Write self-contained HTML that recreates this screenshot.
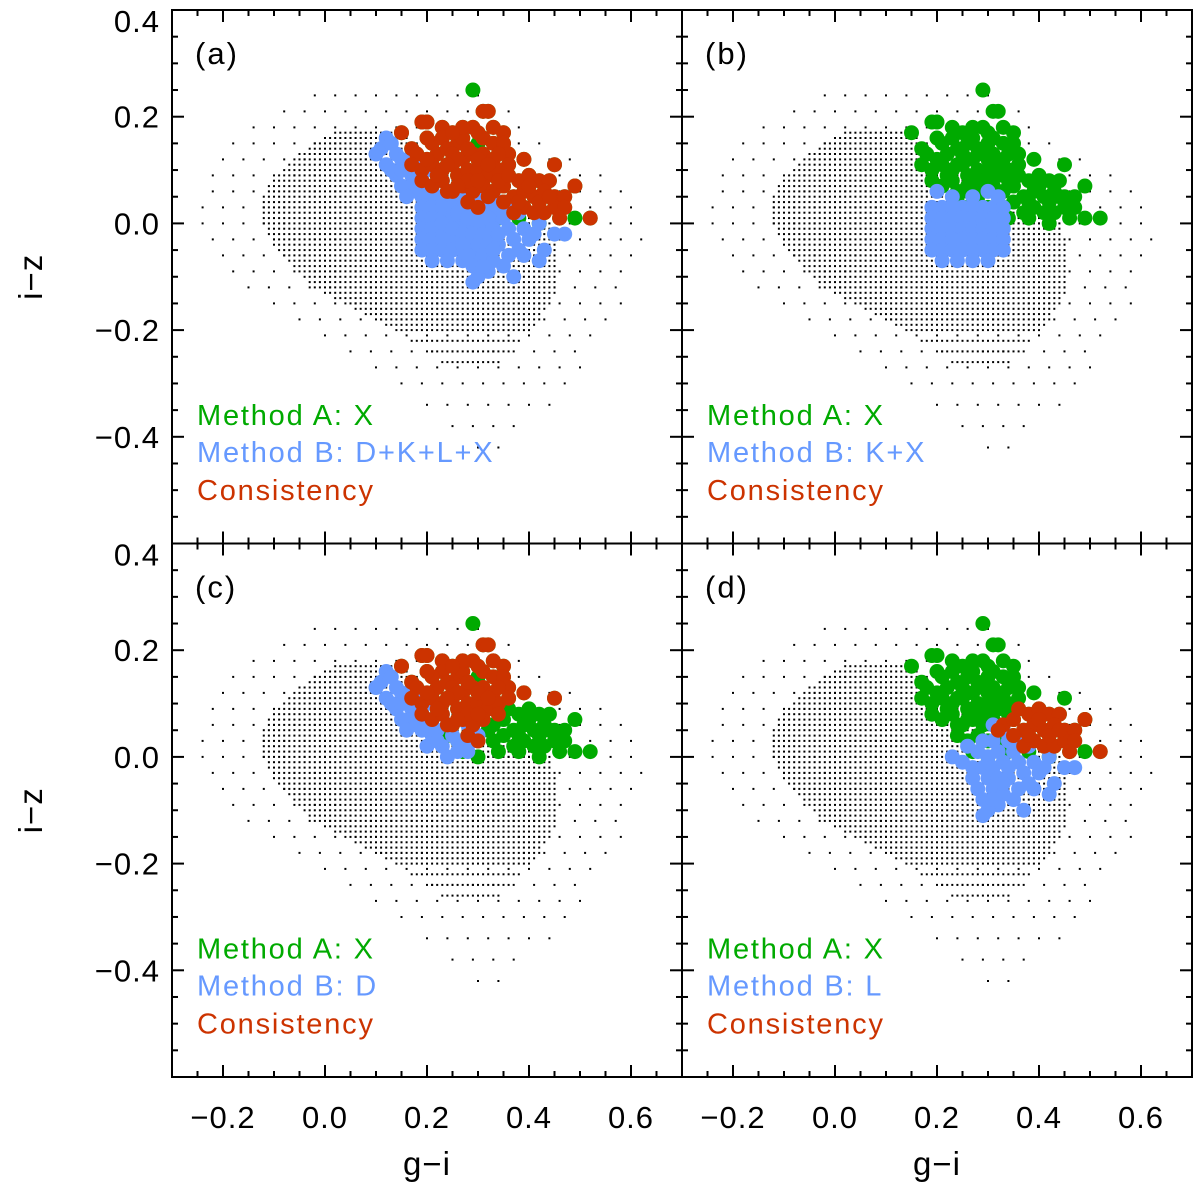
<!DOCTYPE html>
<html><head><meta charset="utf-8"><style>
html,body{margin:0;padding:0;background:#fff;}
svg{display:block;font-family:"Liberation Sans",sans-serif;}
</style></head><body>
<svg id="chart" width="1200" height="1195" viewBox="0 0 1200 1195" xmlns="http://www.w3.org/2000/svg"></svg>
<script>
// ---- data ----
const xTicks = [-0.2, 0.0, 0.2, 0.4, 0.6];
const xTickLabels = ["\u22120.2", "0.0", "0.2", "0.4", "0.6"];
const yTicks = [0.4, 0.2, 0.0, -0.2, -0.4];
const yTickLabels = ["0.4", "0.2", "0.0", "\u22120.2", "\u22120.4"];
const panelLabels = ["(a)", "(b)", "(c)", "(d)"];
const legendB = ["Method B: D+K+L+X", "Method B: K+X", "Method B: D", "Method B: L"];
const panelBSets = [["D","K","L"], ["K"], ["D"], ["L"]];
const panelRedSets = [["D","L"], [], ["D"], ["L"]];
// background cloud: [y, xmin, xmax] dense rows
const coreRows = [[0.17,0.02,0.14],[0.16,0.0,0.16],[0.15,-0.02,0.17],[0.14,-0.03,0.18],[0.13,-0.05,0.2],[0.12,-0.06,0.22],[0.11,-0.07,0.24],[0.10,-0.08,0.26],[0.09,-0.09,0.28],[0.08,-0.10,0.30],[0.07,-0.11,0.32],[0.06,-0.11,0.34],[0.05,-0.12,0.36],[0.04,-0.12,0.38],[0.03,-0.12,0.40],[0.02,-0.12,0.41],[0.01,-0.12,0.42],[0.00,-0.12,0.43],[-0.01,-0.11,0.44],[-0.02,-0.11,0.44],[-0.03,-0.10,0.45],[-0.04,-0.10,0.45],[-0.05,-0.09,0.45],[-0.06,-0.08,0.45],[-0.07,-0.07,0.45],[-0.08,-0.06,0.45],[-0.09,-0.05,0.45],[-0.10,-0.04,0.45],[-0.11,-0.03,0.45],[-0.12,-0.02,0.45],[-0.13,0.0,0.45],[-0.14,0.02,0.44],[-0.15,0.04,0.44],[-0.16,0.06,0.43],[-0.17,0.08,0.42],[-0.18,0.10,0.42],[-0.19,0.12,0.41],[-0.20,0.14,0.40],[-0.22,0.17,0.38],[-0.24,0.20,0.36],[-0.26,0.23,0.34]];
// sparse halo rows: [y, xmin, xmax]
const haloRows = [[0.24,-0.02,0.30],[0.21,-0.08,0.36],[0.18,-0.14,0.40],[0.15,-0.18,0.45],[0.12,-0.20,0.50],[0.09,-0.22,0.55],[0.06,-0.22,0.58],[0.03,-0.24,0.60],[0.0,-0.24,0.62],[-0.03,-0.22,0.64],[-0.06,-0.20,0.62],[-0.09,-0.18,0.60],[-0.12,-0.15,0.58],[-0.15,-0.10,0.58],[-0.18,-0.05,0.55],[-0.21,0.0,0.55],[-0.24,0.05,0.52],[-0.27,0.10,0.50],[-0.30,0.15,0.48],[-0.34,0.20,0.45],[-0.38,0.25,0.40],[-0.42,0.30,0.36]];
// Method A (X) points: [g-i, i-z, confirmed-by]
const methodA = [[0.29,0.25,""],[0.15,0.17,"D"],[0.19,0.19,"D"],[0.20,0.19,"D"],[0.23,0.18,"D"],[0.23,0.16,"D"],[0.26,0.15,"D"],[0.27,0.16,"D"],[0.31,0.21,"D"],[0.32,0.21,"D"],[0.29,0.18,"D"],[0.30,0.15,""],[0.31,0.16,"D"],[0.33,0.15,"D"],[0.35,0.17,"D"],[0.35,0.15,"D"],[0.17,0.14,"D"],[0.18,0.13,"D"],[0.21,0.15,"D"],[0.22,0.13,"D"],[0.24,0.14,"D"],[0.25,0.13,"D"],[0.27,0.12,"D"],[0.29,0.13,"D"],[0.31,0.13,"D"],[0.33,0.12,"D"],[0.36,0.13,"D"],[0.39,0.12,"D"],[0.45,0.11,"D"],[0.17,0.11,"D"],[0.19,0.10,"D"],[0.21,0.11,"D"],[0.23,0.10,"D"],[0.25,0.11,"D"],[0.26,0.09,"D"],[0.28,0.10,"D"],[0.30,0.10,"D"],[0.32,0.09,"D"],[0.34,0.10,"D"],[0.36,0.11,"D"],[0.38,0.08,"L"],[0.40,0.09,"L"],[0.42,0.08,"L"],[0.49,0.07,"L"],[0.44,0.08,"L"],[0.19,0.08,"D"],[0.21,0.07,"D"],[0.23,0.08,"D"],[0.25,0.06,"D"],[0.27,0.07,"D"],[0.29,0.06,"D"],[0.31,0.07,"D"],[0.33,0.06,"L"],[0.35,0.07,"L"],[0.37,0.05,"L"],[0.39,0.06,"L"],[0.41,0.05,"L"],[0.43,0.06,"L"],[0.45,0.05,"L"],[0.47,0.05,"L"],[0.24,0.04,""],[0.26,0.03,""],[0.28,0.04,"D"],[0.30,0.03,"D"],[0.33,0.03,""],[0.35,0.04,"L"],[0.37,0.02,"L"],[0.39,0.03,"L"],[0.41,0.02,"L"],[0.43,0.02,"L"],[0.45,0.03,"L"],[0.47,0.03,"L"],[0.46,0.01,"L"],[0.49,0.01,""],[0.52,0.01,"L"],[0.42,0.0,""],[0.38,0.01,""],[0.34,0.01,""],[0.30,0.0,""],[0.27,0.01,""],[0.24,0.06,"D"],
 [0.26,0.12,"D"],[0.28,0.14,"D"],[0.30,0.12,"D"],[0.32,0.11,"D"],[0.28,0.08,"D"],[0.30,0.08,"D"],[0.34,0.08,"D"],[0.22,0.09,"D"],[0.24,0.11,"D"],[0.26,0.07,"D"],[0.32,0.05,"L"],[0.36,0.09,"L"],[0.40,0.07,"L"],[0.42,0.04,"L"],[0.44,0.05,"L"],[0.38,0.04,"L"],[0.27,0.18,"D"],[0.20,0.16,"D"],[0.25,0.17,"D"],[0.30,0.17,"D"],[0.33,0.18,"D"],[0.34,0.13,"D"],[0.20,0.12,"D"]];
// Method B sub-sets
const bluePtsD = [[0.10,0.13],[0.11,0.14],[0.12,0.16],[0.13,0.15],[0.14,0.13],[0.12,0.11],[0.15,0.12],[0.16,0.10],[0.14,0.09],[0.17,0.09],[0.18,0.11],[0.19,0.08],[0.20,0.10],[0.21,0.07],[0.17,0.07],[0.22,0.05],[0.23,0.08],[0.24,0.06],[0.25,0.04],[0.26,0.03],[0.19,0.05],[0.21,0.04],[0.23,0.02],[0.27,0.02],[0.28,0.01],[0.24,0.00],[0.29,0.03],[0.30,0.04],[0.28,0.06],[0.18,0.06],[0.15,0.07],[0.20,0.02],[0.13,0.10],[0.16,0.05],[0.18,0.08],[0.20,0.06],[0.22,0.03],[0.26,0.01],[0.15,0.10],[0.17,0.12]];
const bluePtsK = [[0.20,0.06],[0.23,0.05],[0.27,0.05],[0.30,0.06],[0.32,0.05],
 [0.19,0.03],[0.21,0.03],[0.23,0.03],[0.25,0.03],[0.27,0.03],[0.29,0.03],[0.31,0.03],[0.33,0.03],
 [0.19,0.01],[0.21,0.01],[0.23,0.01],[0.25,0.01],[0.27,0.01],[0.29,0.01],[0.31,0.01],[0.33,0.01],
 [0.19,-0.01],[0.21,-0.01],[0.23,-0.01],[0.25,-0.01],[0.27,-0.01],[0.29,-0.01],[0.31,-0.01],[0.33,-0.01],
 [0.19,-0.03],[0.21,-0.03],[0.23,-0.03],[0.25,-0.03],[0.27,-0.03],[0.29,-0.03],[0.31,-0.03],[0.33,-0.03],
 [0.19,-0.05],[0.21,-0.05],[0.23,-0.05],[0.25,-0.05],[0.27,-0.05],[0.29,-0.05],[0.31,-0.05],[0.33,-0.05],
 [0.21,-0.07],[0.24,-0.07],[0.27,-0.07],[0.30,-0.07]];
const bluePtsL = [[0.31,0.06],[0.33,0.05],[0.29,0.03],[0.31,0.03],[0.34,0.03],[0.36,0.04],[0.23,0.00],[0.26,0.02],[0.28,0.01],[0.30,0.0],[0.32,0.01],[0.35,0.01],[0.38,0.02],[0.25,-0.01],[0.27,-0.02],[0.29,-0.02],[0.31,-0.02],[0.33,-0.01],[0.36,-0.01],[0.39,-0.01],[0.42,0.0],[0.45,-0.02],[0.47,-0.02],[0.27,-0.04],[0.30,-0.04],[0.32,-0.04],[0.34,-0.04],[0.37,-0.03],[0.40,-0.03],[0.43,-0.05],[0.28,-0.06],[0.31,-0.06],[0.33,-0.07],[0.36,-0.06],[0.39,-0.06],[0.42,-0.07],[0.29,-0.08],[0.32,-0.09],[0.35,-0.08],[0.30,-0.10],[0.29,-0.11],[0.37,-0.10],[0.34,-0.02],[0.38,-0.05],[0.31,-0.08],[0.41,-0.02],[0.35,0.02],[0.33,-0.05]];

// ---- layout ----
const NS = "http://www.w3.org/2000/svg";
const svg = document.getElementById("chart");
const X0 = [172, 682], Y0 = [10, 543.5], PW = 510, PH = 533.5;
const XMIN = -0.3, XMAX = 0.7, YMIN = -0.6, YMAX = 0.4;
const GREEN = "#00aa00", BLUE = "#6699ff", RED = "#cc3300";
const R = 7.5;
function mk(tag, attrs, parent) {
  const e = document.createElementNS(NS, tag);
  for (const k in attrs) e.setAttribute(k, attrs[k]);
  (parent || svg).appendChild(e);
  return e;
}
function sx(p, v) { return X0[p % 2] + (v - XMIN) / (XMAX - XMIN) * PW; }
function sy(p, v) { return Y0[Math.floor(p / 2)] + (YMAX - v) / (YMAX - YMIN) * PH; }
const blueSets = { D: bluePtsD, K: bluePtsK, L: bluePtsL };

for (let p = 0; p < 4; p++) {
  const g = mk("g", {});
  
  
  const bg = mk("g", { fill: "#000" }, g);
  
  
  coreRows.forEach(r => {
    for (let x = r[1]; x <= r[2] + 1e-9; x += 0.01) {
      mk("rect", { x: (sx(p, x) - 1).toFixed(1), y: (sy(p, r[0]) - 1).toFixed(1), width: 2, height: 2 }, bg);
    }
  });
  haloRows.forEach(r => {
    for (let x = r[1]; x <= r[2] + 1e-9; x += 0.04) {
      mk("rect", { x: (sx(p, x) - 1).toFixed(1), y: (sy(p, r[0]) - 1).toFixed(1), width: 2, height: 2 }, bg);
    }
  });
  const ga = mk("g", { fill: GREEN }, g);
  
  
  methodA.forEach(d => mk("circle", { cx: sx(p, d[0]), cy: sy(p, d[1]), r: R }, ga));
  const gb = mk("g", { fill: BLUE }, g);
  
  
  panelBSets[p].forEach(k => blueSets[k].forEach(d => mk("circle", { cx: sx(p, d[0]), cy: sy(p, d[1]), r: R }, gb)));
  const gr = mk("g", { fill: RED }, g);
  
  
  methodA.forEach(d => {
    if (d[2] && panelRedSets[p].indexOf(d[2]) >= 0)
      mk("circle", { cx: sx(p, d[0]), cy: sy(p, d[1]), r: R }, gr);
  });
  const fr = mk("rect", { x: X0[p % 2], y: Y0[Math.floor(p / 2)], width: PW, height: PH, fill: "none", stroke: "#000", "stroke-width": 2 }, g);
  
  
  const tk = mk("g", { stroke: "#000", "stroke-width": 2 }, g);
  
  
  const yb = Y0[Math.floor(p / 2)], xl = X0[p % 2];
  for (let i = -6; i <= 14; i++) {
    const v = i * 0.05; if (v <= XMIN + 1e-9 || v >= XMAX - 1e-9) continue;
    const L = (i % 4 === 0) ? 12 : 6, x = sx(p, v);
    mk("line", { x1: x, y1: yb + PH, x2: x, y2: yb + PH - L }, tk);
    mk("line", { x1: x, y1: yb, x2: x, y2: yb + L }, tk);
  }
  for (let i = -12; i <= 8; i++) {
    const v = i * 0.05; if (v <= YMIN + 1e-9 || v >= YMAX - 1e-9) continue;
    const L = (i % 4 === 0) ? 12 : 6, y = sy(p, v);
    mk("line", { x1: xl, y1: y, x2: xl + L, y2: y }, tk);
    mk("line", { x1: xl + PW, y1: y, x2: xl + PW - L, y2: y }, tk);
  }
  const pl = mk("text", { x: xl + 23, y: yb + 54, "font-size": 31, "letter-spacing": 2, fill: "#000" }, g);
  pl.textContent = panelLabels[p];
  
  
  const lg = mk("g", { "font-size": 29, "letter-spacing": 1.8 }, g);
  
  
  const la = mk("text", { x: xl + 25, y: yb + 415, fill: GREEN }, lg);
  la.textContent = "Method A:  X";
  
  
  const lb = mk("text", { x: xl + 25, y: yb + 452, fill: BLUE }, lg);
  lb.textContent = legendB[p].replace(": ", ":  ");
  
  
  const lc = mk("text", { x: xl + 25, y: yb + 490, fill: RED }, lg);
  lc.textContent = "Consistency";
  
  
}
for (let c = 0; c < 2; c++) {
  xTicks.forEach((v, i) => {
    const t = mk("text", { x: sx(c, v), y: 1128, "font-size": 31, "letter-spacing": 1, "text-anchor": "middle", fill: "#000" });
    t.textContent = xTickLabels[i];
    
    
  });
  const xt = mk("text", { x: sx(c, 0.2), y: 1175, "font-size": 33, "letter-spacing": 1, "text-anchor": "middle", fill: "#000" });
  xt.textContent = "g\u2212i";
  
  
}
for (let r = 0; r < 2; r++) {
  yTicks.forEach((v, i) => {
    let y = sy(r * 2, v) + 11;
    if (v === 0.4) y = Y0[r] + 22;
    const t = mk("text", { x: 160, y: y, "font-size": 31, "letter-spacing": 1, "text-anchor": "end", fill: "#000" });
    t.textContent = yTickLabels[i];
    
    
  });
  const cy = sy(r * 2, -0.1);
  const yt = mk("text", { x: 42, y: cy, "font-size": 33, "letter-spacing": 1, "text-anchor": "middle", fill: "#000", transform: "rotate(-90 42 " + cy + ")" });
  yt.textContent = "i\u2212z";
  
  
}
</script>
</body></html>
